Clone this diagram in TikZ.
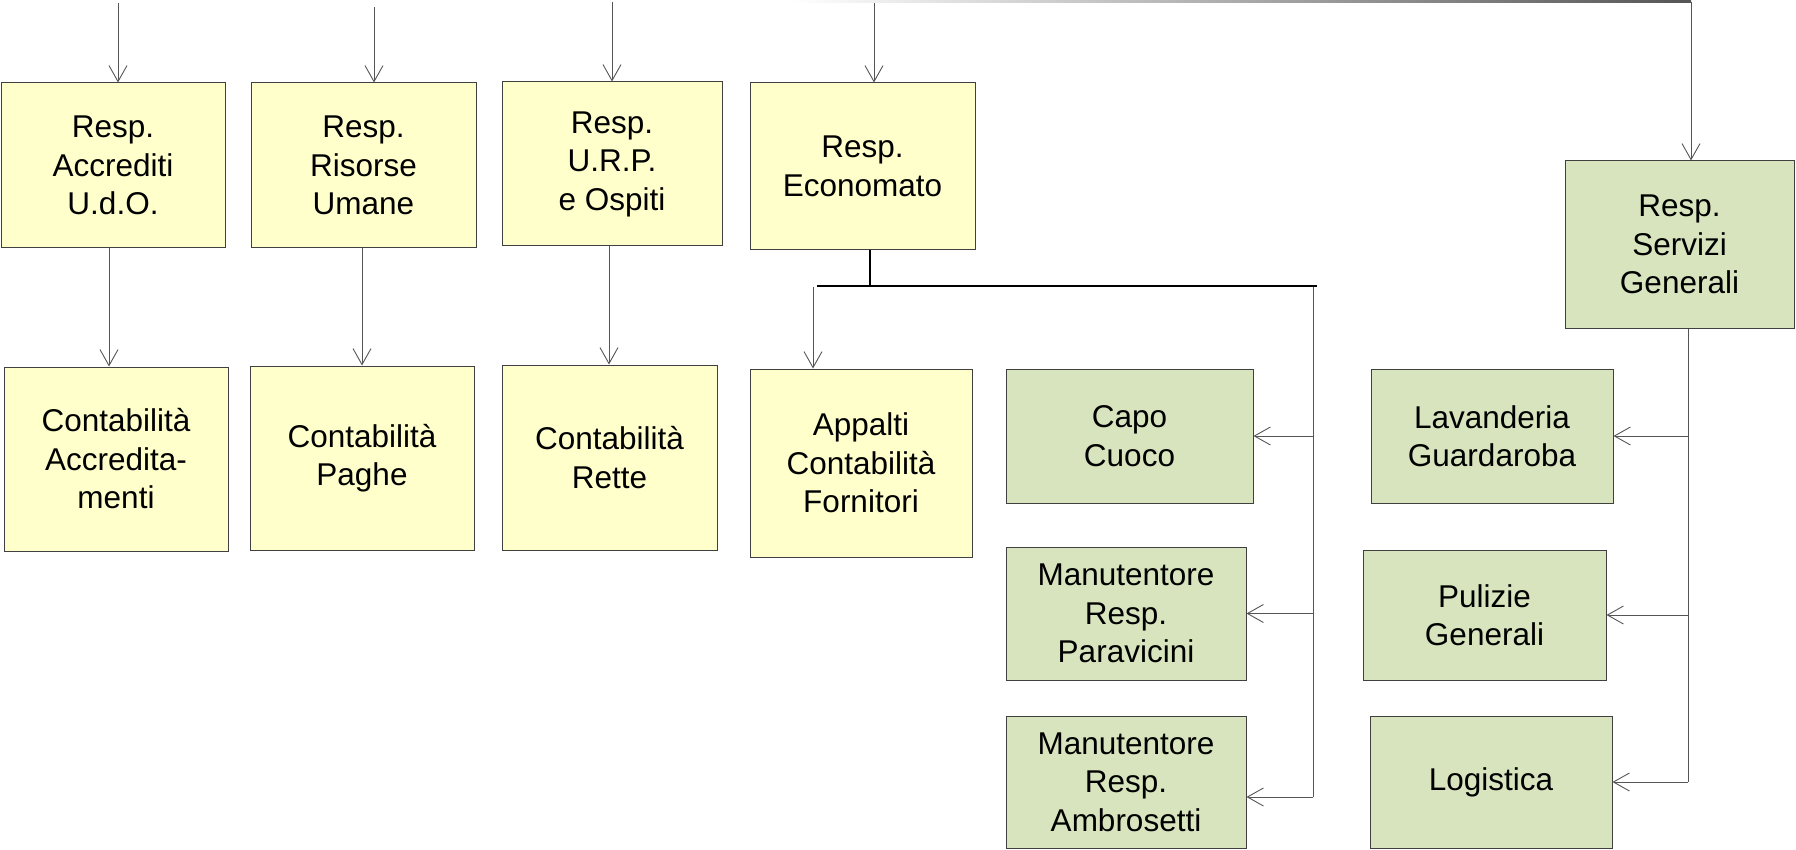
\documentclass[tikz,border=0pt]{standalone}
\usepackage{fontspec}
\setmainfont{Liberation Sans}
\usetikzlibrary{arrows.meta,calc}
\definecolor{yfill}{HTML}{FFFFCC}
\definecolor{gfill}{HTML}{D7E4BD}
\definecolor{edge}{HTML}{404040}
\definecolor{wire}{HTML}{555555}
\tikzset{
  box/.style={draw=edge, line width=1pt, align=center, inner sep=0pt,
    font=\fontsize{31.5}{38.5}\selectfont},
  ybox/.style={box, fill=yfill},
  gbox/.style={box, fill=gfill},
  conn/.style={draw=wire, line width=0.9pt},
  arr/.style={conn, -{Straight Barb[length=16pt,width=18pt,line width=0.9pt]}},
  bar/.style={draw=black, line width=1.4pt},
}
\begin{document}
\begin{tikzpicture}[x=1pt,y=-1pt]
\useasboundingbox (0,0) rectangle (1796,850);
% top row
\node[ybox, minimum width=224pt, minimum height=165pt] (a1) at (113,165.5) {Resp.\\Accrediti\\U.d.O.};
\node[ybox, minimum width=225pt, minimum height=165pt] (a2) at (363.5,165.5) {Resp.\\Risorse\\Umane};
\node[ybox, minimum width=220pt, minimum height=164pt] (a3) at (612,164) {Resp.\\U.R.P.\\e Ospiti};
\node[ybox, minimum width=225pt, minimum height=167pt] (a4) at (862.5,166.5) {Resp.\\Economato};
\node[gbox, minimum width=229pt, minimum height=167pt] (s) at (1679.5,244.5) {Resp.\\Servizi\\Generali};
% second row
\node[ybox, minimum width=224pt, minimum height=184pt] (b1) at (116,459) {Contabilità\\Accredita-\\menti};
\node[ybox, minimum width=224pt, minimum height=184pt] (b2) at (362,458) {Contabilità\\Paghe};
\node[ybox, minimum width=215pt, minimum height=185pt] (b3) at (609.5,457.5) {Contabilità\\Rette};
\node[ybox, minimum width=222pt, minimum height=188pt] (b4) at (861,463) {Appalti\\Contabilità\\Fornitori};
% green
\node[gbox, minimum width=247pt, minimum height=134pt] (g1) at (1129.5,436) {Capo\\Cuoco};
\node[gbox, minimum width=240pt, minimum height=133pt] (g2) at (1126,613.5) {Manutentore\\Resp.\\Paravicini};
\node[gbox, minimum width=240pt, minimum height=132pt] (g3) at (1126,782) {Manutentore\\Resp.\\Ambrosetti};
\node[gbox, minimum width=242pt, minimum height=134pt] (r1) at (1492,436) {Lavanderia\\Guardaroba};
\node[gbox, minimum width=243pt, minimum height=130pt] (r2) at (1484.5,615) {Pulizie\\Generali};
\node[gbox, minimum width=242pt, minimum height=132pt] (r3) at (1491,782) {Logistica};
% free ends
\coordinate (t1) at (118,3);
\coordinate (t2) at (374,7);
\coordinate (t3) at (612,2);
\coordinate (t4) at (874,2);
\coordinate (tl) at (790,1);
\coordinate (tr) at (1691,2);
\coordinate (x1) at (109,0);
\coordinate (x2) at (362,0);
\coordinate (x3) at (609,0);
\coordinate (e1) at (870,286);
\coordinate (hl) at (817,286);
\coordinate (hr) at (1317,286);
\coordinate (d4) at (813,287);
\coordinate (vtop) at (1313,287);
\coordinate (vbot) at (1313,797);
\coordinate (rtop) at (1688,328);
\coordinate (rbot) at (1688,782);
% top arrows
\draw[arr] (t1) -- (t1 |- a1.north);
\draw[arr] (t2) -- (t2 |- a2.north);
\draw[arr] (t3) -- (t3 |- a3.north);
\draw[arr] (t4) -- (t4 |- a4.north);
\shade[left color=white, right color=wire] ($(tl)+(0,-0.6)$) rectangle ($(tr)+(0,0.6)$);
\draw[arr] (tr) -- (tr |- s.north);
% top to second row
\draw[arr] (x1 |- a1.south) -- (x1 |- b1.north);
\draw[arr] (x2 |- a2.south) -- (x2 |- b2.north);
\draw[arr] (x3 |- a3.south) -- (x3 |- b3.north);
% economato
\draw[bar] (e1 |- a4.south) -- (e1);
\draw[bar] (hl) -- (hr);
\draw[arr] (d4) -- (d4 |- b4.north);
\draw[conn] (vtop) -- (vbot);
\draw[arr] (vtop |- g1.east) -- (g1.east);
\draw[arr] (vtop |- g2.east) -- (g2.east);
\draw[arr] (vbot) -- (g3.east |- vbot);
% servizi generali
\draw[conn] (rtop |- s.south) -- (rbot);
\draw[arr] (rtop |- r1.east) -- (r1.east);
\draw[arr] (rtop |- r2.east) -- (r2.east);
\draw[arr] (rbot) -- (r3.east |- rbot);
\end{tikzpicture}
\end{document}
